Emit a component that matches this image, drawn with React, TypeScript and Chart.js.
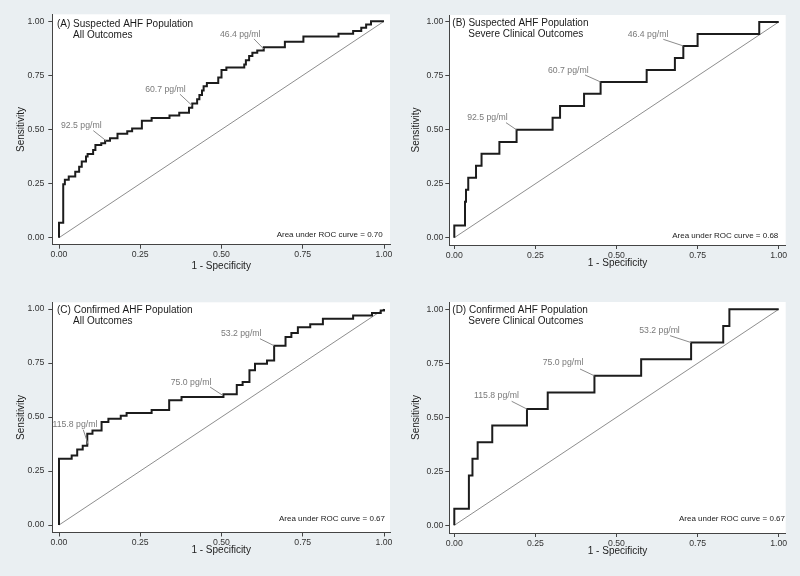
import React, { useEffect, useRef } from 'react';
import { Chart, registerables } from 'chart.js';

Chart.register(...registerables);

const FONT = "'Liberation Sans', Arial, Helvetica, sans-serif";
const BG = '#eaeff2';
const AXIS_COLOR = '#444444';
const CURVE_COLOR = '#1c1c1c';
const REF_COLOR = '#8e8e8e';
const NOTE_COLOR = '#7a7a7a';
const LEADER_COLOR = '#8c8c8c';

// ---------- shared axis data ----------
const AXIS_TICKS = [0, 0.25, 0.5, 0.75, 1];
const REF_X = [0, 1];
const REF_Y = [0, 1];
const X_TITLE = '1 - Specificity';
const Y_TITLE = 'Sensitivity';

// ---------- Panel A: Suspected AHF, all outcomes ----------
const fprA = [0, 0, 0.013, 0.018, 0.03, 0.05, 0.062, 0.07, 0.083, 0.088, 0.105, 0.112, 0.13, 0.142, 0.157, 0.18, 0.21, 0.225, 0.255, 0.285, 0.34, 0.37, 0.4, 0.41, 0.425, 0.432, 0.44, 0.445, 0.455, 0.49, 0.5, 0.515, 0.57, 0.575, 0.585, 0.595, 0.61, 0.63, 0.695, 0.752, 0.86, 0.905, 0.93, 0.945, 0.96, 1];
const tprA = [0, 0.069, 0.247, 0.268, 0.283, 0.305, 0.328, 0.352, 0.375, 0.387, 0.405, 0.428, 0.437, 0.448, 0.46, 0.48, 0.492, 0.505, 0.54, 0.553, 0.565, 0.577, 0.6, 0.62, 0.64, 0.66, 0.68, 0.7, 0.715, 0.74, 0.775, 0.787, 0.8, 0.82, 0.84, 0.855, 0.865, 0.88, 0.905, 0.93, 0.942, 0.955, 0.97, 0.985, 1, 1];
const cutLabelsA = ['92.5 pg/ml', '60.7 pg/ml', '46.4 pg/ml'];
const cutXA = [0.145, 0.41, 0.63];
const cutYA = [0.448, 0.61, 0.872];
const titleA = ['(A) Suspected AHF Population', 'All Outcomes'];
const aucA = 'Area under ROC curve = 0.70';

// ---------- Panel B: Suspected AHF, severe clinical outcomes ----------
const fprB = [0, 0, 0.033, 0.036, 0.043, 0.067, 0.084, 0.139, 0.192, 0.303, 0.326, 0.4, 0.451, 0.593, 0.68, 0.706, 0.75, 0.94, 1];
const tprB = [0, 0.056, 0.167, 0.222, 0.278, 0.333, 0.389, 0.444, 0.5, 0.556, 0.611, 0.667, 0.722, 0.778, 0.833, 0.889, 0.944, 1, 1];
const cutLabelsB = ['92.5 pg/ml', '60.7 pg/ml', '46.4 pg/ml'];
const cutXB = [0.192, 0.451, 0.706];
const cutYB = [0.5, 0.722, 0.889];
const titleB = ['(B) Suspected AHF Population', 'Severe Clinical Outcomes'];
const aucB = 'Area under ROC curve = 0.68';

// ---------- Panel C: Confirmed AHF, all outcomes ----------
const fprC = [0, 0, 0.039, 0.056, 0.073, 0.087, 0.103, 0.131, 0.152, 0.19, 0.208, 0.285, 0.339, 0.377, 0.506, 0.547, 0.565, 0.586, 0.603, 0.64, 0.662, 0.697, 0.715, 0.735, 0.773, 0.812, 0.905, 0.963, 0.99, 1];
const tprC = [0, 0.307, 0.322, 0.349, 0.367, 0.423, 0.437, 0.477, 0.492, 0.506, 0.518, 0.532, 0.577, 0.593, 0.605, 0.648, 0.662, 0.717, 0.746, 0.762, 0.83, 0.87, 0.889, 0.915, 0.929, 0.955, 0.97, 0.982, 0.993, 1];
const cutLabelsC = ['115.8 pg/ml', '75.0 pg/ml', '53.2 pg/ml'];
const cutXC = [0.09, 0.505, 0.662];
const cutYC = [0.372, 0.599, 0.83];
const titleC = ['(C) Confirmed AHF Population', 'All Outcomes'];
const aucC = 'Area under ROC curve = 0.67';

// ---------- Panel D: Confirmed AHF, severe clinical outcomes ----------
const fprD = [0, 0, 0.045, 0.056, 0.072, 0.117, 0.224, 0.288, 0.432, 0.576, 0.73, 0.829, 0.848, 1];
const tprD = [0, 0.077, 0.231, 0.308, 0.385, 0.462, 0.538, 0.615, 0.692, 0.769, 0.846, 0.923, 1, 1];
const cutLabelsD = ['115.8 pg/ml', '75.0 pg/ml', '53.2 pg/ml'];
const cutXD = [0.224, 0.432, 0.73];
const cutYD = [0.538, 0.692, 0.846];
const titleD = ['(D) Confirmed AHF Population', 'Severe Clinical Outcomes'];
const aucD = 'Area under ROC curve = 0.67';

// ---------- layout (pixel geometry, not data) ----------
type Layout = {
  left: number; top: number;
  L: number; R: number; T: number; B: number;
  x0: number; x1: number; y1: number; y0: number;
  yTitleX: number; xTitleY: number; yTickPad: number;
  titleDy: [number, number];
  aucDx: number; aucDy: number;
  offs: number[][];
};

const LAYOUT_A: Layout = {
  left: 0, top: 0, L: 52.3, R: 390, T: 14.3, B: 244.7, x0: 59, x1: 384, y1: 21.3, y0: 237.7,
  yTitleX: 21.3, xTitleY: 266.7, yTickPad: 4, titleDy: [3, 14], aucDx: -1.3, aucDy: -2.7,
  offs: [[-24.8, -14.8, -12.8, -10.1], [-26.8, -15.8, -12.3, -11.5], [-23.5, -14.4, -9.8, -10.1]],
};
const LAYOUT_B: Layout = {
  left: 400, top: 0, L: 49.3, R: 385.7, T: 15, B: 245, x0: 54.3, x1: 378.7, y1: 22, y0: 237.7,
  yTitleX: 16.7, xTitleY: 263.3, yTickPad: 2, titleDy: [1.5, 12.5], aucDx: -0.4, aucDy: -2.4,
  offs: [[-29.1, -12.6, -10.6, -7.2], [-32.3, -11.3, -15.6, -7], [-35.3, -11.6, -20, -6.6]],
};
const LAYOUT_C: Layout = {
  left: 0, top: 288, L: 52.3, R: 390, T: 14.3, B: 244.5, x0: 59, x1: 384, y1: 21, y0: 237,
  yTitleX: 21, xTitleY: 262.7, yTickPad: 4, titleDy: [1, 12], aucDx: 1, aucDy: -6,
  offs: [[-13.3, -19.9, -5, -14.9], [-32.1, -13.3, -13.1, -8.6], [-32.9, -11.7, -14.2, -7]],
};
const LAYOUT_D: Layout = {
  left: 400, top: 288, L: 49.3, R: 385.7, T: 14, B: 245, x0: 54.3, x1: 378.7, y1: 21.3, y0: 237.3,
  yTitleX: 16.7, xTitleY: 263.3, yTickPad: 2, titleDy: [1, 12.3], aucDx: 6.3, aucDy: -6.3,
  offs: [[-30.5, -13.4, -15.3, -7.8], [-31.4, -12.8, -14.4, -6.8], [-31.6, -11.9, -21.1, -6.9]],
};

type PanelProps = {
  fpr: number[]; tpr: number[];
  cutLabels: string[]; cutX: number[]; cutY: number[];
  titles: string[]; auc: string; lay: Layout;
};

const W = 400;
const H = 288;

function RocPanel({ fpr, tpr, cutLabels, cutX, cutY, titles, auc, lay }: PanelProps) {
  const ref = useRef<HTMLCanvasElement | null>(null);

  useEffect(() => {
    if (!ref.current) return;
    const ux = lay.x1 - lay.x0;
    const uy = lay.y0 - lay.y1;
    const xMin = -(lay.x0 - lay.L) / ux;
    const xMax = 1 + (lay.R - lay.x1) / ux;
    const yMax = 1 + (lay.y1 - lay.T) / uy;
    const yMin = -(lay.B - lay.y0) / uy;

    const plotBg = {
      id: 'plotBg',
      beforeDraw(chart: any) {
        const { ctx, chartArea } = chart;
        ctx.save();
        ctx.fillStyle = '#ffffff';
        ctx.fillRect(chartArea.left, chartArea.top, chartArea.right - chartArea.left, chartArea.bottom - chartArea.top);
        ctx.restore();
      },
    };

    const notes = {
      id: 'notes',
      afterDraw(chart: any) {
        const { ctx } = chart;
        const sx = chart.scales.x;
        const sy = chart.scales.y;
        ctx.save();
        // cutoff annotations
        cutLabels.forEach((lab, i) => {
          const px = sx.getPixelForValue(cutX[i]);
          const py = sy.getPixelForValue(cutY[i]);
          const o = lay.offs[i];
          ctx.strokeStyle = LEADER_COLOR;
          ctx.lineWidth = 1;
          ctx.beginPath();
          ctx.moveTo(px + o[2], py + o[3]);
          ctx.lineTo(px, py);
          ctx.stroke();
          ctx.fillStyle = NOTE_COLOR;
          ctx.font = `8.7px ${FONT}`;
          ctx.textAlign = 'center';
          ctx.textBaseline = 'middle';
          ctx.fillText(lab, px + o[0], py + o[1]);
        });
        // panel title
        const tx = sx.getPixelForValue(0);
        const ty = sy.getPixelForValue(1);
        ctx.fillStyle = '#1a1a1a';
        ctx.font = `10px ${FONT}`;
        ctx.textAlign = 'left';
        ctx.textBaseline = 'middle';
        ctx.fillText(titles[0], tx - 2, ty + lay.titleDy[0]);
        ctx.fillText(titles[1], tx + 14, ty + lay.titleDy[1]);
        // AUC text
        const ax = sx.getPixelForValue(1);
        const ay = sy.getPixelForValue(0);
        ctx.font = `8px ${FONT}`;
        ctx.textAlign = 'right';
        ctx.fillText(auc, ax + lay.aucDx, ay + lay.aucDy);
        ctx.restore();
      },
    };

    const tickFont = { family: FONT, size: 8.7 };
    const titleFont = { family: FONT, size: 10 };

    const chart = new Chart(ref.current, {
      type: 'line',
      data: {
        datasets: [
          {
            data: fpr.map((x, i) => ({ x, y: tpr[i] })),
            borderColor: CURVE_COLOR,
            borderWidth: 2,
            pointRadius: 0,
            stepped: 'before',
            borderJoinStyle: 'miter',
            borderCapStyle: 'butt',
            fill: false,
          },
          {
            data: REF_X.map((x, i) => ({ x, y: REF_Y[i] })),
            borderColor: REF_COLOR,
            borderWidth: 1,
            pointRadius: 0,
            fill: false,
          },
        ],
      },
      options: {
        responsive: false,
        animation: false,
        devicePixelRatio: 1,
        events: [],
        layout: { padding: { left: 0, top: lay.T, right: W - lay.R, bottom: 0 } },
        plugins: {
          legend: { display: false },
          tooltip: { enabled: false },
          title: { display: false },
        },
        scales: {
          x: {
            type: 'linear',
            min: xMin,
            max: xMax,
            afterFit: (s: any) => { s.height = H - lay.B; },
            afterBuildTicks: (s: any) => { s.ticks = AXIS_TICKS.map((v) => ({ value: v })); },
            ticks: {
              callback: (v: any) => Number(v).toFixed(2),
              font: tickFont,
              color: '#333333',
              padding: 1,
              maxRotation: 0,
              autoSkip: false,
            },
            grid: { display: true, drawOnChartArea: false, drawTicks: true, tickLength: 4, color: AXIS_COLOR },
            border: { display: true, color: AXIS_COLOR, width: 1 },
            title: {
              display: true,
              text: X_TITLE,
              font: titleFont,
              color: '#222222',
              padding: { top: 0, bottom: H - lay.xTitleY - 6 },
            },
          },
          y: {
            type: 'linear',
            position: 'left',
            min: yMin,
            max: yMax,
            afterFit: (s: any) => { s.width = lay.L; },
            afterBuildTicks: (s: any) => { s.ticks = AXIS_TICKS.map((v) => ({ value: v })); },
            ticks: {
              callback: (v: any) => Number(v).toFixed(2),
              font: tickFont,
              color: '#333333',
              padding: lay.yTickPad,
              autoSkip: false,
            },
            grid: { display: true, drawOnChartArea: false, drawTicks: true, tickLength: 4, color: AXIS_COLOR },
            border: { display: true, color: AXIS_COLOR, width: 1 },
            title: {
              display: true,
              text: Y_TITLE,
              font: titleFont,
              color: '#222222',
              padding: { top: lay.yTitleX - 6, bottom: 0 },
            },
          },
        },
      },
      plugins: [plotBg, notes],
    } as any);

    return () => chart.destroy();
  }, []);

  return (
    <canvas
      ref={ref}
      width={W}
      height={H}
      style={{ position: 'absolute', left: lay.left, top: lay.top, width: W, height: H }}
    />
  );
}

export default function App() {
  return (
    <div
      style={{
        position: 'absolute',
        left: 0,
        top: 0,
        width: 800,
        height: 576,
        background: BG,
        overflow: 'hidden',
      }}
    >
      <RocPanel fpr={fprA} tpr={tprA} cutLabels={cutLabelsA} cutX={cutXA} cutY={cutYA} titles={titleA} auc={aucA} lay={LAYOUT_A} />
      <RocPanel fpr={fprB} tpr={tprB} cutLabels={cutLabelsB} cutX={cutXB} cutY={cutYB} titles={titleB} auc={aucB} lay={LAYOUT_B} />
      <RocPanel fpr={fprC} tpr={tprC} cutLabels={cutLabelsC} cutX={cutXC} cutY={cutYC} titles={titleC} auc={aucC} lay={LAYOUT_C} />
      <RocPanel fpr={fprD} tpr={tprD} cutLabels={cutLabelsD} cutX={cutXD} cutY={cutYD} titles={titleD} auc={aucD} lay={LAYOUT_D} />
    </div>
  );
}
